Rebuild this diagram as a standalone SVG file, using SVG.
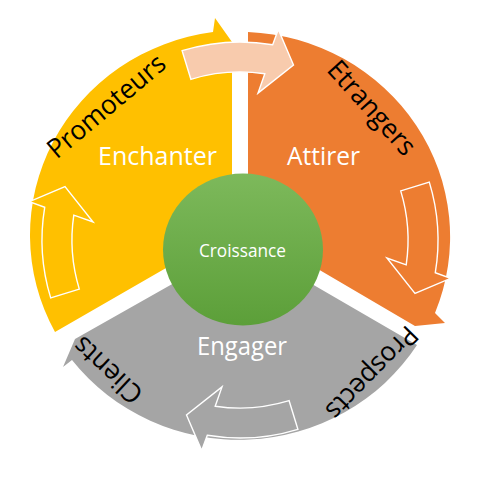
<svg xmlns="http://www.w3.org/2000/svg" width="480" height="480" viewBox="0 0 480 480">
<defs>
<style>
.big{font-family:"Open Sans","Liberation Sans",sans-serif;font-size:25px;fill:#FFFFFF;text-anchor:middle}
.lbl{font-family:"Open Sans","Liberation Sans",sans-serif;font-size:27px;fill:#000000;text-anchor:middle}
.mid{font-family:"Open Sans","Liberation Sans",sans-serif;font-size:18px;fill:#FFFFFF;text-anchor:middle}
.inner{stroke:#FFFFFF;stroke-width:1.4;stroke-linejoin:miter}
</style>
<linearGradient id="gr" x1="0" y1="0" x2="0" y2="1">
<stop offset="0" stop-color="#7DB95B"/>
<stop offset="1" stop-color="#5C9F39"/>
</linearGradient>
<path id="carrow" d="M -57.9,-189.3 A 198 198 0 0 1 32.7,-195.3 L 38.3,-210.6 L 53.5,-175 L 18,-146.9 L 24.8,-166.2 A 168 168 0 0 0 -49.1,-160.7 Z"/>
</defs>
<rect width="480" height="480" fill="#FFFFFF"/>
<g id="enchanter">
<path d="M 232,230 L 55,332 A 211 205 0 0 1 213,32 L 215,18 L 232,42 Z" fill="#FFC000"/>
</g>
<g id="attirer">
<path d="M 248,228 L 248,32 A 211 205 0 0 1 435,313 L 445,323 L 415,326 Z" fill="#ED7D31"/>
</g>
<g id="engager">
<path d="M 243,244 L 417,345 A 211 205 0 0 1 72,360 L 63,367 L 75,339 Z" fill="#A5A5A5"/>
</g>
<g id="connectors">
<use href="#carrow" class="inner" fill="#FFC000" transform="translate(240,240) rotate(270)"/>
<use href="#carrow" class="inner" fill="#ED7D31" transform="translate(240,240) rotate(90)"/>
<use href="#carrow" class="inner" fill="#A5A5A5" transform="translate(240,240) rotate(180)"/>
<use href="#carrow" class="inner" fill="#F8CBAD" transform="translate(240,240)"/>
</g>
<g id="croissance">
<ellipse cx="243" cy="249.5" rx="80" ry="76" fill="url(#gr)"/>
<text class="mid" x="242.5" y="257" textLength="87" lengthAdjust="spacingAndGlyphs">Croissance</text>
</g>
<g id="enchanter-labels">
<text class="big" x="157.5" y="165" textLength="119" lengthAdjust="spacingAndGlyphs">Enchanter</text>
<text class="lbl" transform="translate(112.3,113.2) rotate(-40)" textLength="145" lengthAdjust="spacingAndGlyphs">Promoteurs</text>
</g>
<g id="attirer-labels">
<text class="big" x="323.5" y="165" textLength="73" lengthAdjust="spacingAndGlyphs">Attirer</text>
<text class="lbl" transform="translate(365,114) rotate(48)" textLength="117" lengthAdjust="spacingAndGlyphs">Etrangers</text>
</g>
<g id="engager-labels">
<text class="big" x="242" y="355" textLength="90" lengthAdjust="spacingAndGlyphs">Engager</text>
<text class="lbl" transform="translate(365.3,366.5) rotate(134.3)" textLength="119" lengthAdjust="spacingAndGlyphs">Prospects</text>
<text class="lbl" transform="translate(114,363.5) rotate(223)" textLength="84" lengthAdjust="spacingAndGlyphs">Clients</text>
</g>
</svg>
